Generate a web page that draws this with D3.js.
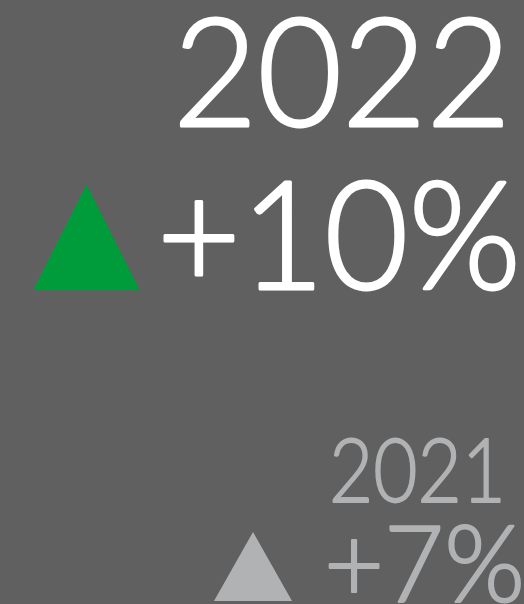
<!DOCTYPE html>
<html lang="en">
<meta charset="utf-8">
<title>Year change</title>
<style>
  body { margin: 0; background: #606060; }
  svg { display: block; }
  text { font-family: "Lato", sans-serif; font-weight: 300; stroke-linejoin: round; }
</style>
<body>
<script src="https://d3js.org/d3.v7.min.js"></script>
<script>
// data
var years = ["2022", "2021"];
var changes = [10, 7];

var width = 524, height = 604;

// layout for each block (current year big, previous year smaller)
var layout = [
  { yearSize: 150, yearBase: 126, yearRight: 511, yearW: 338,
    pctSize: 150, pctBase: 289, pctRight: 521, pctW: 364,
    tri: { left: 33, right: 139, top: 184, bottom: 289 },
    color: "#ffffff", triColor: "#009b3a" },
  { yearSize: 88, yearBase: 502, yearRight: 506, yearW: 177,
    pctSize: 106, pctBase: 602, pctRight: 525, pctW: 201,
    tri: { left: 214, right: 292, top: 532, bottom: 601 },
    color: "#b0b2b4", triColor: "#b0b2b4" }
];

var svg = d3.select("body").append("svg")
  .attr("width", width)
  .attr("height", height);

var blocks = svg.selectAll("g.block")
  .data(years.map(function(y, i) {
    return { year: y, change: changes[i], l: layout[i] };
  }))
  .enter().append("g")
  .attr("class", "block");

// triangle up arrow
blocks.append("path")
  .attr("d", function(d) {
    var t = d.l.tri;
    return "M" + t.left + "," + t.bottom + "L" + (t.left + t.right) / 2 + "," + t.top +
      "L" + t.right + "," + t.bottom + "Z";
  })
  .attr("fill", function(d) { return d.l.triColor; });

// year
blocks.append("text")
  .attr("class", "year")
  .attr("x", function(d) { return d.l.yearRight; })
  .attr("y", function(d) { return d.l.yearBase; })
  .attr("text-anchor", "end")
  .attr("font-size", function(d) { return d.l.yearSize; })
  .attr("textLength", function(d) { return d.l.yearW; })
  .attr("lengthAdjust", "spacingAndGlyphs")
  .attr("fill", function(d) { return d.l.color; })
  .attr("stroke", function(d) { return d.l.color; })
  .attr("stroke-width", function(d) { return d.l.yearSize * 0.02; })
  .text(function(d) { return d.year; });

// change
blocks.append("text")
  .attr("class", "pct")
  .attr("x", function(d) { return d.l.pctRight; })
  .attr("y", function(d) { return d.l.pctBase; })
  .attr("text-anchor", "end")
  .attr("font-size", function(d) { return d.l.pctSize; })
  .attr("textLength", function(d) { return d.l.pctW; })
  .attr("lengthAdjust", "spacingAndGlyphs")
  .attr("fill", function(d) { return d.l.color; })
  .attr("stroke", function(d) { return d.l.color; })
  .attr("stroke-width", function(d) { return d.l.pctSize * 0.02; })
  .text(function(d) { return (d.change > 0 ? "+" : "") + d.change + "%"; });
</script>
</body>
</html>
